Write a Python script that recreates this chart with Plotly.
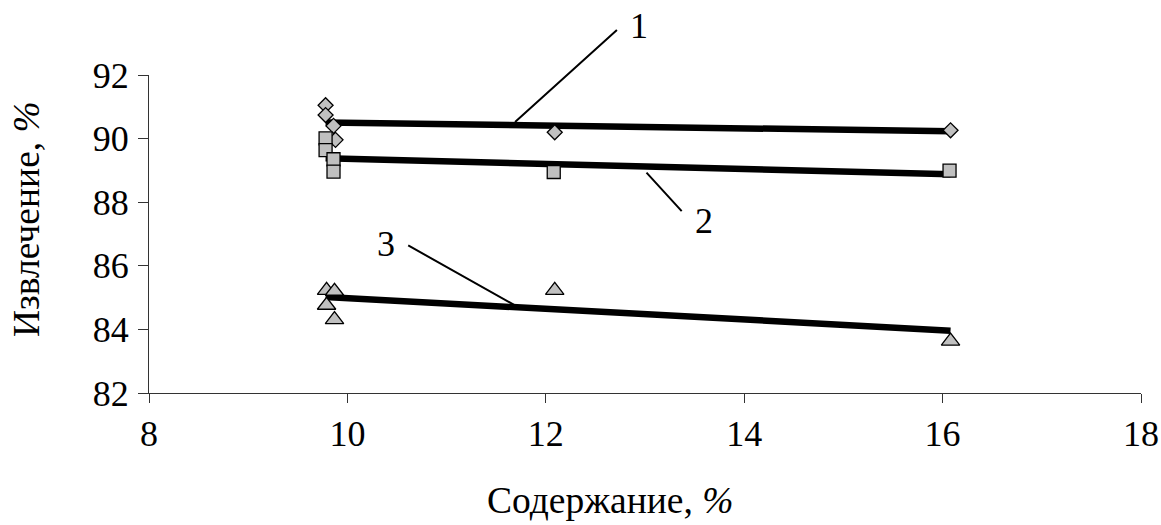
import plotly.graph_objects as go

# ---- data ----
s1_x = [9.78, 9.78, 9.86, 9.88, 12.09, 16.08]
s1_y = [91.05, 90.74, 90.40, 89.96, 90.20, 90.26]

s2_x = [9.78, 9.78, 9.86, 9.86, 12.08, 16.07]
s2_y = [90.01, 89.64, 89.35, 88.96, 88.95, 88.99]

s3_x = [9.79, 9.87, 9.79, 9.87, 12.09, 16.08]
s3_y = [85.23, 85.20, 84.76, 84.31, 85.23, 83.63]

trend_x = [9.78, 16.08]
trend1_y = [90.51, 90.23]
trend2_y = [89.38, 88.88]
trend3_y = [85.02, 83.96]

x_ticks = [8, 10, 12, 14, 16, 18]
y_ticks = [82, 84, 86, 88, 90, 92]

labels = ["1", "2", "3"]

# label text positions: x in data units, y in paper units
label_pos = [(12.94, 1.155), (13.595, 0.541), (10.394, 0.469)]
# leader lines (data units)
leader_from = [(12.732, 93.46), (13.00, 88.98), (10.598, 86.667)]
leader_to = [(11.69, 90.52), (13.37, 87.72), (11.707, 84.726)]

FONT = "Liberation Serif"
FS = 36
TFS = 37.5
GRAY = "#C0C0C0"

fig = go.Figure()

for ty in (trend1_y, trend2_y, trend3_y):
    fig.add_trace(go.Scatter(x=trend_x, y=ty, mode="lines",
                             line=dict(color="black", width=6.5),
                             showlegend=False, hoverinfo="skip"))

mk_line = dict(color="black", width=1.3)
fig.add_trace(go.Scatter(x=s1_x, y=s1_y, mode="markers", showlegend=False,
                         marker=dict(symbol="diamond", size=11.5, color=GRAY, line=mk_line)))
fig.add_trace(go.Scatter(x=s2_x, y=s2_y, mode="markers", showlegend=False,
                         marker=dict(symbol="square", size=13, color=GRAY, line=mk_line)))
fig.add_trace(go.Scatter(x=s3_x, y=s3_y, mode="markers", showlegend=False,
                         marker=dict(symbol="triangle-up", size=16, color=GRAY, line=mk_line)))

annotations = []
for (fx, fy), (tx, ty) in zip(leader_from, leader_to):
    annotations.append(dict(x=tx, y=ty, ax=fx, ay=fy, xref="x", yref="y",
                            axref="x", ayref="y", text=" ", showarrow=True,
                            arrowhead=0, arrowwidth=2, arrowcolor="black",
                            standoff=0, startstandoff=0, font=dict(size=1)))
for lab, (lx, ly) in zip(labels, label_pos):
    annotations.append(dict(x=lx, y=ly, xref="x", yref="paper", text=lab,
                            showarrow=False, xanchor="center", yanchor="middle",
                            font=dict(family=FONT, size=FS, color="black")))

# axis titles
annotations.append(dict(x=0.465, y=-0.338, xref="paper", yref="paper",
                        text="Содержание, <i>%</i>", showarrow=False,
                        xanchor="center", yanchor="middle",
                        font=dict(family=FONT, size=TFS, color="black")))
annotations.append(dict(x=-0.124, y=0.547, xref="paper", yref="paper",
                        text="Извлечение, <i>%</i>", showarrow=False, textangle=-90,
                        xanchor="center", yanchor="middle",
                        font=dict(family=FONT, size=TFS, color="black")))

fig.update_layout(
    width=1161, height=525,
    margin=dict(l=149, r=20, t=75, b=132),
    paper_bgcolor="white", plot_bgcolor="white",
    font=dict(family=FONT, size=FS, color="black"),
    annotations=annotations,
    xaxis=dict(range=[8, 18], tickvals=x_ticks, ticktext=[str(v) for v in x_ticks],
               showgrid=False, zeroline=False, showline=True, linecolor="#333",
               linewidth=1, ticks="outside", ticklen=9, tickcolor="#333",
               automargin=False,
               tickfont=dict(family=FONT, size=FS)),
    yaxis=dict(range=[82, 92], tickvals=y_ticks, ticktext=[str(v) for v in y_ticks],
               showgrid=False, zeroline=False, showline=True, linecolor="#333",
               linewidth=1, ticks="outside", ticklen=10, tickcolor="#333",
               ticklabelstandoff=2, automargin=False,
               tickfont=dict(family=FONT, size=FS)),
)

fig.write_html(
    "out.html",
    config={"displayModeBar": False},
    post_script="document.body.style.margin='0';document.body.style.overflow='hidden';",
)
